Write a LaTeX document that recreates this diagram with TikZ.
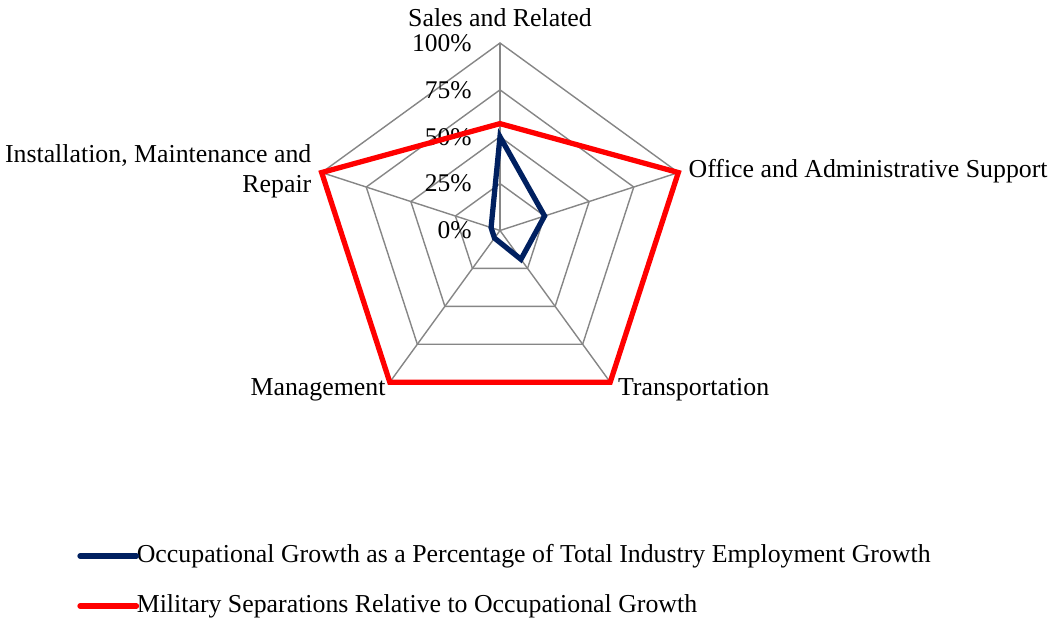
\documentclass[tikz,border=0pt]{standalone}
\usepackage{fontspec}
\setmainfont{Liberation Serif}
\usetikzlibrary{positioning,calc}
\definecolor{navyline}{RGB}{0,32,96}
\definecolor{gridgray}{RGB}{134,134,134}
\tikzset{
  gridline/.style={draw=gridgray, line width=0.8pt},
  axislabel/.style={font=\fontsize{14.7}{17}\selectfont, inner sep=0pt},
  ticklabel/.style={font=\fontsize{14.5}{17}\selectfont, anchor=east, inner sep=0pt},
  series/.style={line width=3pt, line join=miter},
}
\begin{document}
\begin{tikzpicture}
\useasboundingbox (-10,-7.81) rectangle (10.98,4.61);
% rings and spokes
\foreach \r [evaluate=\r as \rr using \r*3.75] in {0.25,0.5,0.75,1}{
	\draw[gridline] (90:\rr) -- (18:\rr) -- (-54:\rr) -- (-126:\rr) -- (162:\rr) -- cycle;
}
\foreach \a/\n in {90/1, 18/2, -54/3, -126/4, 162/5}{
	\coordinate (v\n) at (\a:3.75);
	\draw[gridline] (0,0) -- (v\n);
}
% tick labels
\foreach \r/\t in {0/0, 0.25/25, 0.5/50, 0.75/75, 1/100}{
	\node[ticklabel] (tick\t) at (-0.56,\r*3.75) {\t\%};
}
% series
\draw[series, red] (90:0.57*3.75) -- (18:3.75) -- (-54:3.75) -- (-126:3.75) -- (162:3.75) -- cycle;
\draw[series, navyline] (90:0.5*3.75) -- (18:0.25*3.75) -- (-54:0.19*3.75) -- (-126:0.05*3.75) -- (162:0.05*3.75) -- cycle;
% axis labels
\node[axislabel, above=0.32cm of v1] (sales) {Sales and Related};
\node[axislabel, anchor=west] (office) at ($(v2)+(0.2,0.02)$) {Office and Administrative Support};
\node[axislabel, anchor=west] (transp) at ($(v3)+(0.15,-0.16)$) {Transportation};
\node[axislabel, anchor=east] (mgmt) at ($(v4)+(-0.08,-0.16)$) {Management};
\node[axislabel, anchor=east, align=right] (install) at ($(v5)+(-0.2,0.03)$) {Installation, Maintenance and\\Repair};
% legend
\coordinate (legA) at (-8.4,-6.51);
\coordinate (legB) at (-8.4,-7.51);
\node[axislabel, anchor=west] (legAtext) at (-7.27,-6.51) {Occupational Growth as a Percentage of Total Industry Employment Growth};
\node[axislabel, anchor=west] (legBtext) at (-7.27,-7.51) {Military Separations Relative to Occupational Growth};
\draw[series, navyline, line cap=round] (legA) -- (legAtext.west);
\draw[series, red, line cap=round] (legB) -- (legBtext.west);
\end{tikzpicture}
\end{document}
